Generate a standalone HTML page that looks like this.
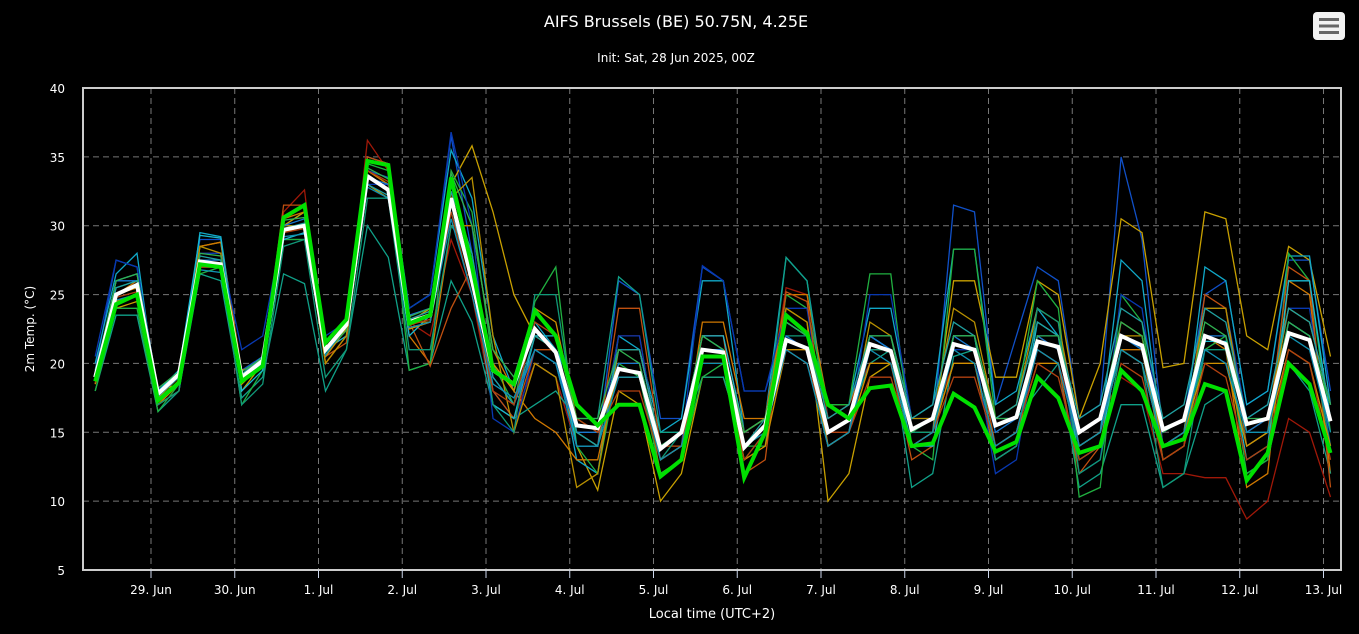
<!DOCTYPE html>
<html><head><meta charset="utf-8"><style>
html,body{margin:0;padding:0;background:#000;}
svg{display:block;font-family:"DejaVu Sans","Liberation Sans",sans-serif;}
</style></head><body>
<svg id="chart" width="1359" height="634" viewBox="0 0 1359 634">
<rect x="0" y="0" width="1359" height="634" fill="#000"/>
<text x="676" y="27" text-anchor="middle" fill="#fff" font-size="16">AIFS Brussels (BE) 50.75N, 4.25E</text>
<text x="676" y="62" text-anchor="middle" fill="#fff" font-size="12">Init: Sat, 28 Jun 2025, 00Z</text>
<g>
<rect x="1313" y="12" width="32" height="28" rx="4" fill="#f2f2f2"/>
<rect x="1319" y="18" width="20" height="3" fill="#666"/>
<rect x="1319" y="24.5" width="20" height="3" fill="#666"/>
<rect x="1319" y="31" width="20" height="3" fill="#666"/>
</g>
<g id="grid"></g>
<g id="plot"></g>
<rect x="83" y="88" width="1258" height="482" fill="none" stroke="#ccc" stroke-width="2"/>
<g id="axes"></g>
<text transform="translate(34,329) rotate(-90)" text-anchor="middle" fill="#fff" font-size="12">2m Temp. (°C)</text>
<text x="712" y="618" text-anchor="middle" fill="#fff" font-size="13">Local time (UTC+2)</text>
</svg>
<script>
const yTicks=[5,10,15,20,25,30,35,40];
const dayLabels=["29. Jun","30. Jun","1. Jul","2. Jul","3. Jul","4. Jul","5. Jul","6. Jul","7. Jul","8. Jul","9. Jul","10. Jul","11. Jul","12. Jul","13. Jul"];
const meanSeries=[19,25,25.7,17.8,19.2,27.4,27.2,19,20.2,29.7,30,21,22.8,33.6,32.6,23,23.5,32,26,19.5,18.5,22.5,20.8,15.5,15.3,19.6,19.3,13.8,15,21,20.8,13.9,15.5,21.7,21.1,15,15.9,21.4,20.9,15.2,16,21.4,21,15.5,16.1,21.6,21.2,15,16,22,21.3,15.2,15.9,22,21.4,15.6,16,22.2,21.7,15.8];
const controlSeries=[18.7,24.3,25,17.3,18.6,27.2,27,18.7,19.8,30.6,31.5,21.5,23.2,34.7,34.4,22.9,23.5,33.5,27,19.5,18.5,23.8,22,17,15.5,17,17,11.8,13,20.5,20.5,11.7,15,23.5,22.2,17,16,18.2,18.4,14,14.2,17.8,16.8,13.6,14.3,19,17.5,13.5,14,19.5,18,14,14.5,18.5,18,11.5,13.5,20,18.5,13.5];
const memberA=[19.5,27.5,27,18,19.5,29,29,19.5,20.5,30,31,21,23,34,33.5,24,25,36.5,28,18,16,20,19,14,14,26,25,16,16,27,26,18,18,23,22,15,16,22,21,15,15,31.5,31,17,22,27,26,16,17,35,29,15,16,25,26,17,18,27.5,27.5,18];
const memberB=[18.5,24,24.5,18,18.5,28.5,28.8,18,20,30,31,20,22,34,33,23,24,33,35.8,31,25,22,21,14,10.8,18,17,10,12,19,19,14,15,24,23,10,12,19,20,14,15,26,26,19,19,26,25,16,20,30.5,29.5,19.7,20,31,30.5,22,21,28.5,27.5,20.5];
const memberC=[20,26.5,28,17,18,29.5,29.2,19,20.5,29,29,21.5,23,35,34.5,24,25,35.5,32,22,18,23,21,13,12,22,21,15,16,26,26,15,16,27.7,26,16,17,24,24,16,17,28.3,28.3,17,18,24,22,14,15,27.5,26,14,15,27,26,17,18,27.8,27.8,17];
const memberD=[18.5,24.5,25,17,18.5,28,28,19,20,31,32.6,20,22,36.2,34,23,22,29,25,17,16,20,19,14,14,22,22,13,14,22,22,15,16,25.5,25,16,17,20,20,15,16,20,20,14,15,20,20,15,16,19,18,12,12,11.7,11.7,8.7,10,16,15,10.3];
const memberE=[19,25,26,17,18.5,28.5,28.8,19.5,20,30.5,31,21,23,34,33,22,20,30,30,21,18,16,15,13,13,20,20,12,13,23,23,16,16,25,25,17,17,21,21,15,15,20,20,13,14,22,21,14,15,21,21,13,14,22,21,11,12,26,25,12];
const memberF=[18,23.5,23.5,16.5,18,26.5,26,17.5,19,26.5,25.8,18,21,30,27.7,19.5,20,26,23,17,16,17,18,16,16,26.3,25,15,15,19,19,14,15,27.7,26,15,16,20,21,11,12,20.5,21,16,16,18,20,11,12,17,17,11,12,17,18,12,13,20,18,12];
const memberG=[18,24,24,16.5,18.5,26.5,27,17,19.5,29,29,21,22.5,34.5,34,19.5,20,34,31,20,17,24.5,27,14,12,20,19,12,13,19,20,14,14,25,24,17,17,26.5,26.5,14,13,28.3,28.3,16,17,26,24,10.3,11,25,23,13,14,21,22,12,13,28,26,15];
const memberH=[20.5,27.5,27,18,19,28,28,21,22,30,30,22,23,33,33,24,25,36.8,30,16,15,21,20,14,14,22,22,13,14,27.1,26,18,18,24,24,14,15,25,25,16,16,21,21,12,13,22,22,12,13,25,24,14,15,24,24,16,17,24,24,14];
const memberI=[19,25,25.5,17.5,18.5,27,27,18.5,20,31.5,31.5,20.5,21.5,35,34.5,23,19.8,24,27,18,16,21,21,15,14,24,24,14,14,22,22,12,13,25.2,24.5,14,15,20,20,13,14,22,22,14,15,21,20,12,14,23,22,13,14,25,24,14,15,27,26,11];
const memberJ=[19,26,26.5,18,19.5,29.3,29.1,18,19.5,29,29.5,21,22,33,32,22,23.5,31,26,17,16,22,22,14,14,21,21,14,15,22,22,15,16,23,22,15,16,22,21,14,14,22,22,13,14,23,22,13,14,22,21,14,15,21.6,21.6,13,14,26,26,16];
const memberK=[18.5,24.5,25,17,18,28.5,28,18.5,20,30,30,20,22,33,32,23,23,32,33.5,22,15,20,19,11,12,21,21,14,15,21,21,15,16,24,23,14,15,23,22,16,16,24,23,16,17,24,23,15,16,22,22,14,15,24,24,15,16,24,23,17];
const memberL=[19.5,25.5,26,17,18,27,27,17,18.5,28.5,29,19,21,32,32,21,21,30,28,17,15,25,25,15,14,19,19,13,15,21,21,13,15,22,22,15,16,21,21,15,15,22,22,13,14,24,23,12,13,21,20,11,12,21,21,14,15,23,22,14];
const memberM=[19,26,26,18,19,27.5,27.5,19,20,30,30.5,21.5,23,33.5,33,23.5,24,33,27,19,17,21,20,15,15,20,20,14,15,21,21,14,15,22,21,14,15,22,21,15,16,22,21,15,16,22,21,14,15,22,21,15,16,22,22,15,16,23,22,16];
const memberN=[18.8,25,25.5,17.5,19,27,27,18.5,20,29.5,30,20.5,22.5,33.5,32.5,22.5,23,32.5,26,20,18,24,23,16,15,19,19,13,14,20,20,13,14,21,21,14,15,20,20,14,15,20,20,14,15,20,20,14,15,21,20,14,15,20,20,14,15,21,20,14];
const memberO=[19.3,25.5,26,17.8,19,27.8,27.5,19.2,20.5,29.8,30.2,21,23,33,32.2,23.2,23.8,32.5,28,19,17,22,21,15,14,21,21,14,15,22,21,14,16,23,22,16,17,22,22,16,17,23,22,16,17,23,22,16,17,24,23,16,17,24,23,16,17,24,23,17];
const memberP=[18.6,24.8,25.2,17.2,18.8,27,27,18.6,19.8,29.5,29.8,21.2,22.6,34,33.2,22.8,23.2,31,25,18,17,23,22,16,15,18,18,13,14,20,20,13,15,21,20,15,15,19,19,14,15,19,19,14,15,20,19,13,14,20,19,13,14,20,19,13,14,21,20,13];
const memberQ=[19.2,26,26.5,18.2,19.4,28,27.8,19.4,20.4,30.4,30.6,20.8,22.4,34.2,33.4,23.4,24,33.8,30,21,19,24,22,16,16,21,20,14,15,22,21,15,16,23,22,15,16,22,22,15,16,22,22,16,16,22,22,15,16,23,22,15,16,23,22,16,16,23,22,17];
const memberR=[19,24.6,25,17.6,19,26.8,26.6,18.8,20,29.2,29.4,20.6,22.8,32.8,32,22.6,23,30.5,25,18.5,17.5,21,20,14,14,19,19,13,14,20,20,14,15,21,20,14,15,21,20,14,15,21,20,14,15,21,20,14,15,21,20,14,15,21,20,15,15,22,21,15];
const members=[memberA,memberB,memberC,memberD,memberE,memberF,memberG,memberH,memberI,memberJ,memberK,memberL,memberM,memberN,memberO,memberP,memberQ,memberR];
const memberColors=["#1050c8","#c8a000","#10a8c8","#a01808","#d07800","#10a088","#20b040","#0838b0","#c05010","#18b8d0","#b89000","#109878","#1878d0","#d09000","#20a0a0","#b04010","#30b050","#1090b0"];

const NS="http://www.w3.org/2000/svg";
const X0=83,X1=1341,Y0=570,Y1=88;
const yMin=5,yMax=40;
const dayW=83.75, firstDayX=151, startHour=-16, stepH=6;
function yScale(v){return Y0-(v-yMin)/(yMax-yMin)*(Y0-Y1);}
function xScale(i){return firstDayX+(startHour+i*stepH)/24*dayW;}
function dayX(k){return firstDayX+k*dayW;}

const grid=document.getElementById('grid'),axes=document.getElementById('axes'),plot=document.getElementById('plot');
yTicks.forEach(t=>{
  const y=yScale(t);
  if(t>yMin&&t<yMax){
    const l=document.createElementNS(NS,'line');
    l.setAttribute('x1',X0);l.setAttribute('x2',X1);l.setAttribute('y1',y);l.setAttribute('y2',y);
    l.setAttribute('stroke','#777');l.setAttribute('stroke-dasharray','6,4');
    
    
    grid.appendChild(l);
  }
  const tx=document.createElementNS(NS,'text');
  tx.setAttribute('x',65);tx.setAttribute('y',y+5);tx.setAttribute('text-anchor','end');
  tx.setAttribute('fill','#fff');tx.setAttribute('font-size','12');tx.textContent=t;
  
  
  axes.appendChild(tx);
});
dayLabels.forEach((d,k)=>{
  const x=dayX(k);
  const l=document.createElementNS(NS,'line');
  l.setAttribute('x1',x);l.setAttribute('x2',x);l.setAttribute('y1',Y1);l.setAttribute('y2',Y0);
  l.setAttribute('stroke','#777');l.setAttribute('stroke-dasharray','6,4');
  
  
  grid.appendChild(l);
  const tk=document.createElementNS(NS,'line');
  tk.setAttribute('x1',x);tk.setAttribute('x2',x);tk.setAttribute('y1',Y0);tk.setAttribute('y2',Y0+8);
  tk.setAttribute('stroke','#ccd6eb');
  
  
  axes.appendChild(tk);
  const tx=document.createElementNS(NS,'text');
  tx.setAttribute('x',x);tx.setAttribute('y',594);tx.setAttribute('text-anchor','middle');
  tx.setAttribute('fill','#fff');tx.setAttribute('font-size','12');tx.textContent=d;
  
  
  axes.appendChild(tx);
});
function pathFor(arr){return arr.map((v,i)=>(i?'L':'M')+xScale(i).toFixed(1)+','+yScale(v).toFixed(1)).join(' ');}
members.forEach((m,j)=>{
  const p=document.createElementNS(NS,'path');
  p.setAttribute('d',pathFor(m));p.setAttribute('fill','none');
  p.setAttribute('stroke',memberColors[j]);p.setAttribute('stroke-width','1.3');
  
  
  plot.appendChild(p);
});
const mp=document.createElementNS(NS,'path');
mp.setAttribute('d',pathFor(meanSeries));mp.setAttribute('fill','none');
mp.setAttribute('stroke','#fff');mp.setAttribute('stroke-width','4');


plot.appendChild(mp);
const cp=document.createElementNS(NS,'path');
cp.setAttribute('d',pathFor(controlSeries));cp.setAttribute('fill','none');
cp.setAttribute('stroke','#00e000');cp.setAttribute('stroke-width','4');


plot.appendChild(cp);
</script>
</body></html>
